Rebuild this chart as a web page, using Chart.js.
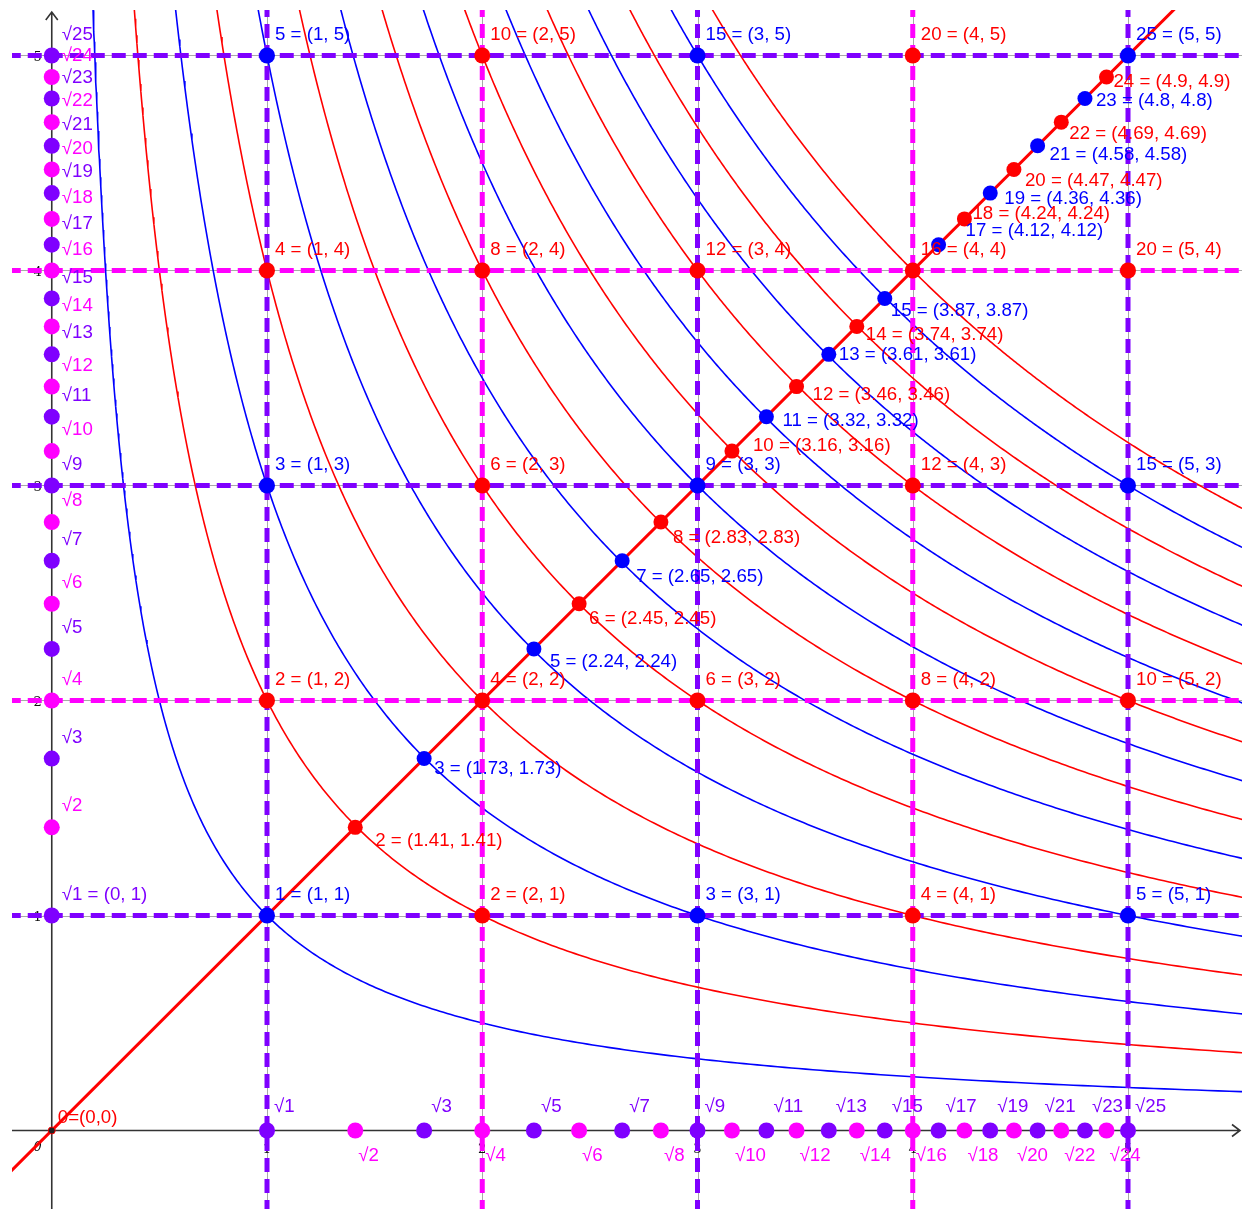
<!DOCTYPE html>
<html>
<head>
<meta charset="utf-8">
<script src="https://cdn.jsdelivr.net/npm/chart.js@4.4.0/dist/chart.umd.min.js"></script>
<style>
  html, body { margin: 0; padding: 0; background: #fff; }
  #wrap { width: 1242px; height: 1209px; }
</style>
</head>
<body>
<div id="wrap"><canvas id="chart" width="1242" height="1209"></canvas></div>
<script>
// grid lines / lattice points sit on these integer steps
const gridSteps = [1, 2, 3, 4, 5];
// hyperbolas x*y = n that are drawn
const curveProducts = [1, 2, 3, 4, 5, 6, 7, 8, 9, 10, 11, 12, 13, 14, 15, 16];
// square roots shown on both axes and on the diagonal (values as printed in the labels)
const rootNumbers = [1, 2, 3, 4, 5, 6, 7, 8, 9, 10, 11, 12, 13, 14, 15, 16, 17, 18, 19, 20, 21, 22, 23, 24, 25];
const rootValues = [1, 1.41, 1.73, 2, 2.24, 2.45, 2.65, 2.83, 3, 3.16, 3.32, 3.46, 3.61, 3.74, 3.87, 4, 4.12, 4.24, 4.36, 4.47, 4.58, 4.69, 4.8, 4.9, 5];
const tickLabels = ['0', '1', '2', '3', '4', '5'];

// view window (same scale on both axes)
const X_MIN = -0.1847, X_MAX = 5.5296;
const Y_MIN = -0.3651, Y_MAX = 5.2116;

const BLUE = '#0000ff', RED = '#ff0000', PURPLE = '#7f00ff', MAGENTA = '#ff00ff';
const FONT = '18.7px "Liberation Sans", Arial, sans-serif';

// label nudges for the diagonal points (pixels), keyed by the number under the root
const diagLabelShift = {
  2: [20, 14], 3: [10, 10], 5: [16, 13], 6: [10, 15], 7: [14, 16], 8: [12, 16],
  10: [21, -5], 11: [16, 4], 12: [16, 8], 13: [10, 1], 14: [9, 8], 15: [6, 12],
  17: [27, -14], 18: [8, -5], 19: [14, 6], 20: [11, 11], 21: [12, 9], 22: [8, 12],
  23: [11, 2], 24: [7, 5]
};

const oddEven = (n, odd, even) => (n % 2 ? odd : even);
const stepColor = s => oddEven(s, PURPLE, MAGENTA);

// lattice points (i, j)
const lattice = [];
gridSteps.forEach(j => gridSteps.forEach(i => lattice.push({ x: i, y: j, n: i * j })));

// diagonal points that are not already lattice points
const diag = [];
rootNumbers.forEach((k, idx) => {
  const v = rootValues[idx];
  if (!Number.isInteger(v)) diag.push({ x: v, y: v, k });
});

// sample each hyperbola y = n / x across the view
function hyperbola(n) {
  const pts = [];
  const x0 = n / (Y_MAX + 0.2), x1 = X_MAX + 0.1, N = 360;
  for (let i = 0; i <= N; i++) {
    const x = x0 * Math.pow(x1 / x0, i / N);
    pts.push({ x, y: n / x });
  }
  return pts;
}

const datasets = [];

// points on top
datasets.push({
  data: lattice, order: 0, showLine: false, pointRadius: 8, pointBorderWidth: 0,
  pointBackgroundColor: lattice.map(p => oddEven(p.n, BLUE, RED))
});
datasets.push({
  data: diag, order: 0, showLine: false, pointRadius: 7.5, pointBorderWidth: 0,
  pointBackgroundColor: diag.map(p => oddEven(p.k, BLUE, RED))
});
datasets.push({
  data: rootValues.map(v => ({ x: 0, y: v })), order: 0, showLine: false, pointRadius: 8, pointBorderWidth: 0,
  pointBackgroundColor: rootNumbers.map(k => oddEven(k, PURPLE, MAGENTA))
});
datasets.push({
  data: rootValues.map(v => ({ x: v, y: 0 })), order: 0, showLine: false, pointRadius: 8, pointBorderWidth: 0,
  pointBackgroundColor: rootNumbers.map(k => oddEven(k, PURPLE, MAGENTA))
});
datasets.push({
  data: [{ x: 0, y: 0 }], order: 0, showLine: false, pointRadius: 3.5, pointBorderWidth: 1,
  pointBackgroundColor: '#222', pointBorderColor: RED
});

// diagonal y = x
datasets.push({
  data: [{ x: -1, y: -1 }, { x: 6, y: 6 }], order: 1, showLine: true,
  borderColor: RED, borderWidth: 3, pointRadius: 0
});

// dashed grid lines
gridSteps.forEach(s => {
  datasets.push({
    data: [{ x: s, y: Y_MIN - 1 }, { x: s, y: Y_MAX + 1 }], order: 2, showLine: true,
    borderColor: stepColor(s), borderWidth: 5, borderDash: [14, 7], pointRadius: 0
  });
  datasets.push({
    data: [{ x: X_MIN - 1, y: s }, { x: X_MAX + 1, y: s }], order: 2, showLine: true,
    borderColor: stepColor(s), borderWidth: 5, borderDash: [14, 7], pointRadius: 0
  });
});

// hyperbolas
curveProducts.forEach(n => {
  datasets.push({
    data: hyperbola(n), order: 3, showLine: true, tension: 0,
    borderColor: oddEven(n, BLUE, RED), borderWidth: 1.6, pointRadius: 0
  });
});

function text(ctx, s, x, y, color, font, align) {
  ctx.font = font || FONT;
  ctx.fillStyle = color;
  ctx.textAlign = align || 'left';
  ctx.textBaseline = 'middle';
  ctx.fillText(s, x, y);
}

const overlay = {
  id: 'overlay',
  beforeDatasetsDraw(chart) {
    const { ctx, scales: { x, y }, chartArea: a } = chart;
    const x0 = x.getPixelForValue(0), y0 = y.getPixelForValue(0);
    ctx.save();
    // thin grey grid under the dashes
    ctx.strokeStyle = '#a8a8a8';
    ctx.lineWidth = 1;
    gridSteps.forEach(s => {
      const px = Math.round(x.getPixelForValue(s)) + 0.5;
      const py = Math.round(y.getPixelForValue(s)) + 0.5;
      ctx.beginPath(); ctx.moveTo(px, a.top); ctx.lineTo(px, a.bottom); ctx.stroke();
      ctx.beginPath(); ctx.moveTo(a.left, py); ctx.lineTo(a.right, py); ctx.stroke();
    });
    // axes with arrow heads
    ctx.strokeStyle = '#333';
    ctx.lineWidth = 1.6;
    ctx.beginPath();
    ctx.moveTo(x0, a.bottom); ctx.lineTo(x0, a.top + 2);
    ctx.moveTo(x0 - 6, a.top + 10); ctx.lineTo(x0, a.top + 2); ctx.lineTo(x0 + 6, a.top + 10);
    ctx.moveTo(a.left, y0); ctx.lineTo(a.right - 2, y0);
    ctx.moveTo(a.right - 10, y0 - 6); ctx.lineTo(a.right - 2, y0); ctx.lineTo(a.right - 10, y0 + 6);
    ctx.stroke();
    // tick labels
    const tf = '13px "DejaVu Serif", serif';
    text(ctx, tickLabels[0], x0 - 14, y0 + 17, '#111', 'italic ' + tf, 'center');
    tickLabels.slice(1).forEach((t, i) => {
      const s = i + 1;
      text(ctx, t, x.getPixelForValue(s), y0 + 19, '#111', tf, 'center');
      text(ctx, t, x0 - 14, y.getPixelForValue(s) + 2, '#111', tf, 'center');
    });
    ctx.restore();
  },
  afterDatasetsDraw(chart) {
    const { ctx, scales: { x, y } } = chart;
    ctx.save();
    // lattice labels
    lattice.forEach(p => {
      text(ctx, `${p.n} = (${p.x}, ${p.y})`, x.getPixelForValue(p.x) + 8, y.getPixelForValue(p.y) - 21,
        oddEven(p.n, BLUE, RED));
    });
    // diagonal labels
    diag.forEach(p => {
      const sh = diagLabelShift[p.k] || [10, 10];
      text(ctx, `${p.k} = (${p.x}, ${p.y})`, x.getPixelForValue(p.x) + sh[0], y.getPixelForValue(p.y) + sh[1],
        oddEven(p.k, BLUE, RED));
    });
    // y-axis root labels
    const x0 = x.getPixelForValue(0), y0 = y.getPixelForValue(0);
    rootNumbers.forEach((k, idx) => {
      const lbl = k === 1 ? '√1 = (0, 1)' : '√' + k;
      text(ctx, lbl, x0 + 10, y.getPixelForValue(rootValues[idx]) - 21, oddEven(k, PURPLE, MAGENTA));
    });
    // x-axis root labels: odd above, even below
    rootNumbers.forEach((k, idx) => {
      const px = x.getPixelForValue(rootValues[idx]);
      if (k % 2) text(ctx, '√' + k, px + 7, y0 - 24, PURPLE);
      else text(ctx, '√' + k, px + 3, y0 + 25, MAGENTA);
    });
    text(ctx, '0=(0,0)', x0 + 6, y0 - 13, RED);
    ctx.restore();
  }
};

new Chart(document.getElementById('chart').getContext('2d'), {
  type: 'scatter',
  data: { datasets },
  options: {
    responsive: false,
    animation: false,
    devicePixelRatio: 1,
    events: [],
    layout: { autoPadding: false, padding: { left: 12, top: 10, right: 0, bottom: 0 } },
    plugins: { legend: { display: false }, tooltip: { enabled: false } },
    scales: {
      x: { type: 'linear', min: X_MIN, max: X_MAX, display: false },
      y: { type: 'linear', min: Y_MIN, max: Y_MAX, display: false }
    }
  },
  plugins: [overlay]
});
</script>
</body>
</html>
